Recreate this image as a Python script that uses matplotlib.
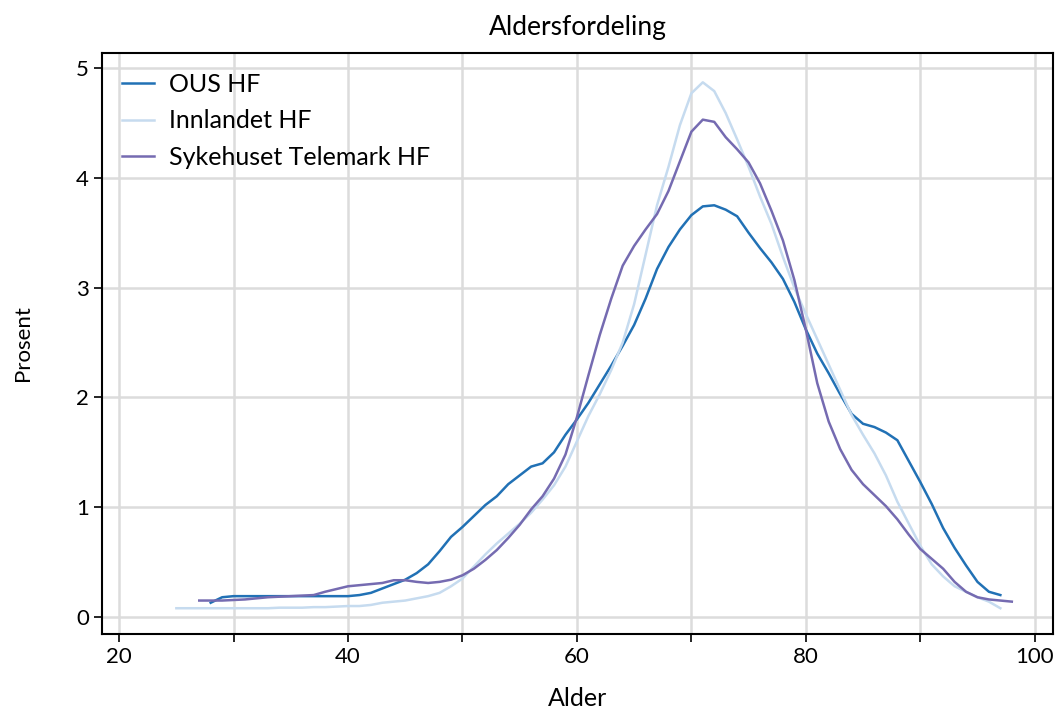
import numpy as np
import matplotlib.pyplot as plt

plt.rcParams['font.family'] = ['Lato', 'DejaVu Sans']

# andel (%) per alder for hvert helseforetak
ous_alder = np.arange(28, 98)
ous_pst = [0.13, 0.18, 0.19, 0.19, 0.19, 0.19, 0.19, 0.19, 0.19, 0.19,
           0.19, 0.19, 0.19, 0.20, 0.22, 0.26, 0.30, 0.34, 0.40, 0.48,
           0.60, 0.73, 0.82, 0.92, 1.02, 1.10, 1.21, 1.29, 1.37, 1.40,
           1.50, 1.66, 1.80, 1.95, 2.12, 2.29, 2.47, 2.66, 2.90, 3.17,
           3.37, 3.53, 3.66, 3.74, 3.75, 3.71, 3.65, 3.50, 3.36, 3.23,
           3.08, 2.87, 2.62, 2.40, 2.22, 2.03, 1.85, 1.76, 1.73, 1.68,
           1.61, 1.42, 1.23, 1.03, 0.81, 0.63, 0.47, 0.32, 0.23, 0.20]

innl_alder = np.arange(25, 98)
innl_pst = [0.08, 0.08, 0.08, 0.08, 0.08, 0.08, 0.08, 0.08, 0.08, 0.085,
            0.085, 0.085, 0.09, 0.09, 0.095, 0.10, 0.10, 0.11, 0.13, 0.14,
            0.15, 0.17, 0.19, 0.22, 0.28, 0.35, 0.46, 0.57, 0.67, 0.76,
            0.85, 0.95, 1.07, 1.20, 1.37, 1.60, 1.83, 2.03, 2.25, 2.50,
            2.85, 3.30, 3.75, 4.10, 4.48, 4.77, 4.87, 4.79, 4.59, 4.35,
            4.10, 3.83, 3.58, 3.28, 3.00, 2.76, 2.53, 2.30, 2.07, 1.84,
            1.66, 1.49, 1.29, 1.05, 0.85, 0.65, 0.48, 0.37, 0.28, 0.23,
            0.18, 0.14, 0.08]

tel_alder = np.arange(27, 99)
tel_pst = [0.15, 0.15, 0.15, 0.155, 0.16, 0.17, 0.18, 0.185, 0.19, 0.195,
           0.20, 0.23, 0.255, 0.28, 0.29, 0.30, 0.31, 0.335, 0.335, 0.32,
           0.31, 0.32, 0.34, 0.38, 0.44, 0.52, 0.61, 0.72, 0.84, 0.98,
           1.10, 1.26, 1.48, 1.82, 2.20, 2.57, 2.90, 3.20, 3.38, 3.53,
           3.67, 3.88, 4.15, 4.42, 4.53, 4.51, 4.37, 4.26, 4.14, 3.95,
           3.70, 3.43, 3.07, 2.62, 2.13, 1.78, 1.53, 1.34, 1.21, 1.11,
           1.01, 0.89, 0.75, 0.62, 0.53, 0.44, 0.32, 0.23, 0.18, 0.16,
           0.15, 0.14]

fig = plt.figure(figsize=(10.6, 7.1), dpi=100)
ax = fig.add_axes([0.0962, 0.107, 0.8972, 0.8188])

ax.plot(ous_alder, ous_pst, color='#2171b5', lw=1.8, label='OUS HF')
ax.plot(innl_alder, innl_pst, color='#c6dbef', lw=1.8, label='Innlandet HF')
ax.plot(tel_alder, tel_pst, color='#756bb1', lw=1.8, label='Sykehuset Telemark HF')

ax.set_xlim(18.5, 101.6)
ax.set_ylim(-0.155, 5.14)
ax.set_xticks([20, 40, 60, 80, 100])
ax.set_xticks([30, 50, 70, 90], minor=True)
ax.set_yticks([0, 1, 2, 3, 4, 5])
ax.grid(True, which='both', color='#dcdcdc', lw=1.8)
ax.set_axisbelow(True)
ax.tick_params(which='both', direction='out', length=6, width=1.2,
               labelsize=16, color='black')
for s in ax.spines.values():
    s.set_linewidth(1.5)
    s.set_color('black')

ax.set_title('Aldersfordeling', fontsize=19, pad=13)
ax.set_xlabel('Alder', fontsize=18, labelpad=14)
ax.set_ylabel('Prosent', fontsize=16, labelpad=31)

ax.legend(loc='upper left', frameon=False, fontsize=18, handlelength=1.3,
          handletextpad=0.6, labelspacing=0.55, borderaxespad=0.4,
          bbox_to_anchor=(0.0, 1.0))

fig.savefig('out.png', dpi=100)
